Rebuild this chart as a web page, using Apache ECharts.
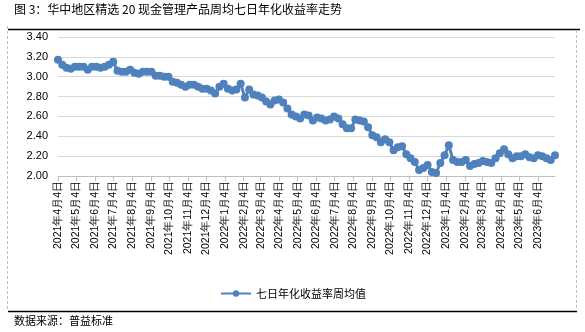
<!DOCTYPE html>
<html>
<head>
<meta charset="utf-8">
<script src="https://cdn.jsdelivr.net/npm/echarts@6/dist/echarts.min.js"></script>
<style>
html,body{margin:0;padding:0;background:#fff;}
#chart{width:585px;height:332px;}
</style>
</head>
<body>
<div id="chart"></div>
<script>
// ---- data ----
const titleText = '图 3：华中地区精选 20 现金管理产品周均七日年化收益率走势';
const sourceText = '数据来源：普益标准';
const seriesName = '七日年化收益率周均值';
const firstWeek = '2021-04-04';   // first weekly observation (Sunday)
const weeklyYield = [
  3.17, 3.12, 3.09, 3.08, 3.10, 3.10, 3.10, 3.07, 3.10, 3.10,
  3.09, 3.10, 3.12, 3.15, 3.06, 3.05, 3.05, 3.07, 3.04, 3.03,
  3.05, 3.05, 3.05, 3.01, 3.01, 3.00, 3.00, 2.95, 2.94, 2.92,
  2.90, 2.92, 2.92, 2.90, 2.88, 2.88, 2.86, 2.83, 2.90, 2.93,
  2.88, 2.86, 2.87, 2.93, 2.79, 2.87, 2.82, 2.81, 2.79, 2.75,
  2.72, 2.76, 2.77, 2.74, 2.68, 2.62, 2.60, 2.58, 2.62, 2.61,
  2.56, 2.59, 2.58, 2.56, 2.57, 2.60, 2.58, 2.52, 2.48, 2.48,
  2.57, 2.56, 2.55, 2.49, 2.41, 2.39, 2.34, 2.37, 2.34, 2.26,
  2.29, 2.30, 2.22, 2.18, 2.14, 2.06, 2.08, 2.11, 2.04, 2.03,
  2.13, 2.21, 2.31, 2.16, 2.14, 2.14, 2.16, 2.10, 2.12, 2.13,
  2.15, 2.14, 2.13, 2.18, 2.23, 2.27, 2.22, 2.18, 2.20, 2.20,
  2.22, 2.19, 2.18, 2.21, 2.20, 2.18, 2.16, 2.21
];
const tickDates = [
  '2021-04-04','2021-05-04','2021-06-04','2021-07-04','2021-08-04','2021-09-04',
  '2021-10-04','2021-11-04','2021-12-04','2022-01-04','2022-02-04','2022-03-04',
  '2022-04-04','2022-05-04','2022-06-04','2022-07-04','2022-08-04','2022-09-04',
  '2022-10-04','2022-11-04','2022-12-04','2023-01-04','2023-02-04','2023-03-04',
  '2023-04-04','2023-05-04','2023-06-04'
];
const axisStart = '2021-04-04';
const axisEnd = '2023-07-02';
const yMin = 2.0, yMax = 3.4, yStep = 0.2;

// ---- helpers: x is measured in days since axisStart ----
const DAY = 86400000;
function utc(s){ const p = s.split('-').map(Number); return Date.UTC(p[0], p[1]-1, p[2]); }
const base = utc(axisStart);
function dayOf(s){ return Math.round((utc(s) - base) / DAY); }
const firstDay = dayOf(firstWeek);
const seriesData = weeklyYield.map((v, i) => [firstDay + 7*i, v]);
const tickDays = tickDates.map(dayOf);
function labelOf(day){
  const d = new Date(base + day*DAY);
  return d.getUTCFullYear() + '年' + (d.getUTCMonth()+1) + '月' + d.getUTCDate() + '日';
}

const numFont = '"Liberation Sans", Arial, sans-serif';
const cjkFont = '"Noto Sans CJK SC", sans-serif';
const lineColor = '#4F81BD';

const chart = echarts.init(document.getElementById('chart'), null, {renderer: 'canvas'});
chart.setOption({
  animation: false,
  backgroundColor: '#fff',
  grid: {left: 58, right: 30, top: 37, bottom: 156, containLabel: false},
  xAxis: {
    type: 'value',
    min: 0,
    max: dayOf(axisEnd),
    axisLine: {show: true, onZero: false, lineStyle: {color: '#bfbfbf', width: 1}},
    axisTick: {show: true, customValues: tickDays, length: 5, lineStyle: {color: '#bfbfbf'}},
    axisLabel: {
      customValues: tickDays,
      rotate: 90,
      margin: 5,
      fontSize: 10.5,
      color: '#000',
      fontFamily: numFont,
      showMinLabel: true,
      showMaxLabel: true,
      formatter: labelOf
    },
    splitLine: {show: false}
  },
  yAxis: {
    type: 'value',
    min: yMin, max: yMax, interval: yStep,
    axisLine: {show: false},
    axisTick: {show: false},
    axisLabel: {color: '#000', fontSize: 11, fontFamily: numFont, margin: 10, formatter: v => v.toFixed(2)},
    splitLine: {show: true, lineStyle: {color: '#d9d9d9', width: 1}}
  },
  legend: {
    show: true,
    left: 215,
    top: 283,
    itemWidth: 30,
    itemHeight: 8,
    itemGap: 4,
    textStyle: {fontFamily: cjkFont, fontSize: 11, color: '#000'},
    data: [{name: seriesName}]
  },
  series: [{
    name: seriesName,
    type: 'line',
    data: seriesData,
    symbol: 'circle',
    symbolSize: 8,
    showSymbol: true,
    lineStyle: {color: lineColor, width: 3},
    itemStyle: {color: lineColor, borderColor: lineColor, borderWidth: 0}
  }],
  graphic: [
    {type: 'text', left: 14, top: 3, style: {text: titleText, font: '12px ' + cjkFont, fill: '#000'}},
    {type: 'line', shape: {x1: 8, y1: 29.5, x2: 580, y2: 29.5}, style: {stroke: '#000', lineWidth: 1.5}},
    {type: 'line', shape: {x1: 8, y1: 311.5, x2: 577, y2: 311.5}, style: {stroke: '#000', lineWidth: 1.5}},
    {type: 'line', shape: {x1: 7.5, y1: 26, x2: 7.5, y2: 311}, style: {stroke: '#bfbfbf', lineWidth: 1, lineDash: [3, 2]}},
    {type: 'line', shape: {x1: 576.5, y1: 30, x2: 576.5, y2: 311}, style: {stroke: '#bfbfbf', lineWidth: 1, lineDash: [3, 2]}},
    {type: 'text', left: 14, top: 315, style: {text: sourceText, font: '11px ' + cjkFont, fill: '#000'}}
  ]
});
</script>
</body>
</html>
